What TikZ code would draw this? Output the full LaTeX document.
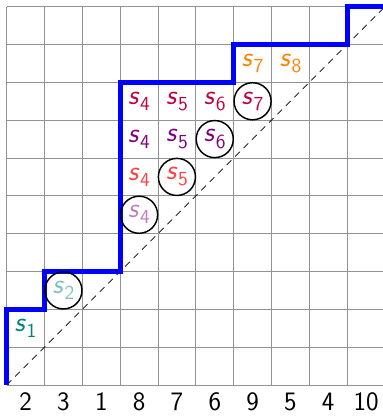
\documentclass[tikz,border=0pt]{standalone}
\usepackage{xcolor}
\begin{document}
\begin{tikzpicture}[x=1cm,y=1cm,
  gridline/.style={draw=gray!85,line width=0.7pt},
  pathline/.style={draw=blue,line width=3.6pt,line join=miter},
  diag/.style={draw=black,dashed,line width=0.5pt,dash pattern=on 5pt off 4pt},
  lab/.style={font=\fontsize{21}{24}\selectfont\sffamily,inner sep=0pt},
  ring/.style={draw=black,circle,line width=1.1pt,minimum size=0.98cm,inner sep=0pt},
  collab/.style={font=\fontsize{20}{24}\selectfont\sffamily,inner sep=0pt}]
\newcommand\sv[1]{\textsl{s}\kern0.02em\raisebox{-0.22em}{\fontsize{15}{18}\selectfont #1}}
\useasboundingbox (-0.177,-0.82) rectangle (9.93,10.177);
\draw[gridline] (0,0) grid (10,10);
\draw[diag] (0,0) -- (10,10);
\draw[pathline] (0,0) -- (0,2) -- (1,2) -- (1,3) -- (3,3) -- (3,8) -- (6,8) -- (6,9) -- (9,9) -- (9,10) -- (10.2,10);
% labels
\node[lab,text=teal] (a1) at (0.5,1.5) {\sv{1}};
\node[lab,text=teal!50] (a2) at (1.5,2.5) {\sv{2}};
\node[ring] (c2) at (1.5,2.5) {};
\node[lab,text=violet!50] (b4) at (3.5,4.5) {\sv{4}};
\node[ring] (c4) at (3.5,4.5) {};
\node[lab,text=red!75] (r4) at (3.5,5.5) {\sv{4}};
\node[lab,text=red!75] (r5) at (4.5,5.5) {\sv{5}};
\node[ring] (c5) at (4.5,5.5) {};
\node[lab,text=violet] (v4) at (3.5,6.5) {\sv{4}};
\node[lab,text=violet] (v5) at (4.5,6.5) {\sv{5}};
\node[lab,text=violet] (v6) at (5.5,6.5) {\sv{6}};
\node[ring] (c6) at (5.5,6.5) {};
\node[lab,text=purple] (p4) at (3.5,7.5) {\sv{4}};
\node[lab,text=purple] (p5) at (4.5,7.5) {\sv{5}};
\node[lab,text=purple] (p6) at (5.5,7.5) {\sv{6}};
\node[lab,text=purple] (p7) at (6.5,7.5) {\sv{7}};
\node[ring] (c7) at (6.5,7.5) {};
\node[lab,text=orange] (o7) at (6.5,8.5) {\sv{7}};
\node[lab,text=orange] (o8) at (7.5,8.5) {\sv{8}};
% column labels
\foreach \v [count=\i from 0] in {2,3,1,8,7,6,9,5,4,10}
  \node[collab] (col\i) at (\i+0.5,-0.45) {\v};
\end{tikzpicture}
\end{document}
